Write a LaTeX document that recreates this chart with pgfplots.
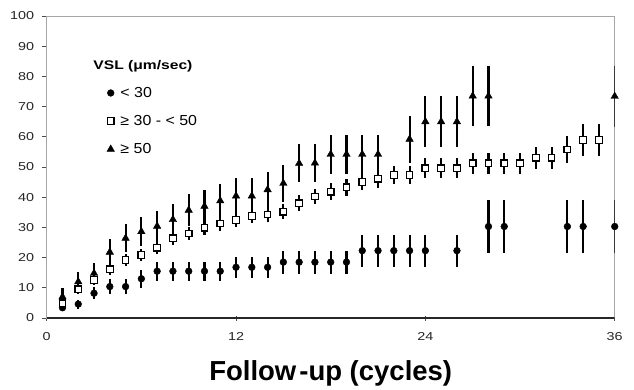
\documentclass[border=0pt]{standalone}
\usepackage{fontspec}
\setmainfont{Liberation Sans}
\newfontfamily\widesans[FakeStretch=1.25]{Liberation Sans}
\newfontfamily\legsans[FakeStretch=1.1]{Liberation Sans}
\usepackage{pgfplots}
\pgfplotsset{compat=1.18}
\usepackage{pgfplotstable}

\pgfplotstableread{
x y e
1 3.4 1.2
2 4.6 1.5
3 8.2 2
4 10.4 2.5
5 10.4 2.5
6 13.0 3
7 15.5 3.2
8 15.5 3.2
9 15.5 3.2
10 15.5 3.2
11 15.5 3.2
12 16.8 3.4
13 16.8 3.4
14 16.8 3.4
15 18.5 3.8
16 18.5 3.8
17 18.5 3.8
18 18.5 3.8
19 18.5 3.8
20 22.3 5.3
21 22.3 5.3
22 22.3 5.3
23 22.3 5.3
24 22.3 5.3
26 22.3 5.3
28 30.3 8.8
29 30.3 8.8
33 30.3 8.8
34 30.3 8.8
36 30.3 8.8
}\circdata

\pgfplotstableread{
x y e
1 4.9 1.2
2 9.5 1.5
3 12.6 1.8
4 16.1 2
5 19.2 2
6 20.9 2
7 23.3 2.2
8 26.4 2.2
9 28.0 2.2
10 29.9 2.4
11 31.3 2.4
12 32.5 2.4
13 33.8 2.4
14 34.3 2.4
15 35.2 2.5
16 38.0 2.6
17 40.2 2.6
18 41.8 2.8
19 43.3 2.8
20 45.1 2.8
21 46.1 3
22 47.4 3
23 47.4 3
24 49.6 3.4
25 49.6 3.4
26 49.6 3.4
27 51.2 3.4
28 51.2 3.4
29 51.2 3.4
30 51.2 3.4
31 53.1 3.6
32 53.1 3.6
33 55.8 4.6
34 58.9 5.3
35 58.9 5.3
}\sqdata

\pgfplotstableread{
x y e
1 7.0 3
2 12.0 3.2
3 14.8 3.5
4 21.8 4.5
5 26.4 4.7
6 28.6 4.8
7 30.4 5
8 32.6 5.2
9 35.7 5.3
10 37.0 5.5
11 38.8 5.6
12 40.4 6
13 40.4 6
14 42.5 6
15 44.6 6.2
16 51.2 6.3
17 51.3 6.3
18 54.2 6.5
19 54.2 6.5
20 54.2 6.5
21 54.2 6.5
23 59.2 7.8
24 65.0 8.5
25 65.0 8.5
26 65.0 8.5
27 73.5 10
28 73.5 10
36 73.4 10
}\tridata

\begin{document}
\begin{tikzpicture}
\begin{axis}[
  name=ax,
  scale only axis,
  width=568pt, height=302pt,
  xmin=0, xmax=36, ymin=0, ymax=100,
  xtick={0,12,24,36},
  ytick={0,10,...,100},
  axis line style={draw=gray!70, line width=0.6pt},
  tick style={black!70, line width=0.8pt},
  major tick length=5pt,
  xtick align=center,
  ytick align=outside,
  xtick pos=bottom, ytick pos=left,
  /pgf/number format/assume math mode=true,
  tick label style={font=\widesans\fontsize{11.5}{13}\selectfont, text=black!85},
  xticklabel style={yshift=-8pt},
  yticklabel style={xshift=-4pt},
  xlabel={\fontsize{27.5}{31}\selectfont\bfseries Follow\kern3pt-up (cycles)},
  xlabel style={yshift=-14pt},
  legend style={at={(axis cs:3.62,77.5)}, anchor=north west, draw=none, fill=none,
    font=\legsans\fontsize{14.5}{16}\selectfont, row sep=14.5pt,
    nodes={inner sep=1pt}},
  legend cell align=left,
]
\draw[black!85, line width=1.3pt] (rel axis cs:0,0) -- (rel axis cs:1,0);
\addplot[only marks, mark=*, mark size=3.4pt, black, forget plot,
  error bars/.cd, y dir=both, y explicit, error mark=none,
  error bar style={black, line width=2.1pt}]
  table[x=x, y=y, y error=e] {\circdata};
\addplot[only marks, mark=square*, mark size=3.3pt, mark options={fill=white, draw=black, line width=1.2pt}, forget plot,
  error bars/.cd, y dir=both, y explicit, error mark=none,
  error bar style={black, line width=2.1pt}]
  table[x=x, y=y, y error=e] {\sqdata};
\addplot[only marks, mark=triangle*, mark size=4.3pt, black, forget plot,
  error bars/.cd, y dir=both, y explicit, error mark=none,
  error bar style={black, line width=2.1pt}]
  table[x=x, y=y, y error=e] {\tridata};
\addlegendimage{only marks, mark=*, mark size=3.4pt, black}
\addlegendentry{\hspace{5pt}< 30}
\addlegendimage{only marks, mark=square*, mark size=3.3pt, mark options={fill=white, draw=black, line width=1.2pt}}
\addlegendentry{\hspace{5pt}≥ 30 - < 50}
\addlegendimage{only marks, mark=triangle*, mark size=4.3pt, black}
\addlegendentry{\hspace{5pt}≥ 50}
\node[anchor=west, font=\widesans\fontsize{12.5}{14}\selectfont\bfseries] at (axis cs:2.74,83.5) {VSL (μm/sec)};
\end{axis}
\pgfresetboundingbox
\path ([shift={(-46.7pt,-71pt)}]ax.south west) rectangle ([shift={(19.3pt,16pt)}]ax.north east);
\end{tikzpicture}
\end{document}
